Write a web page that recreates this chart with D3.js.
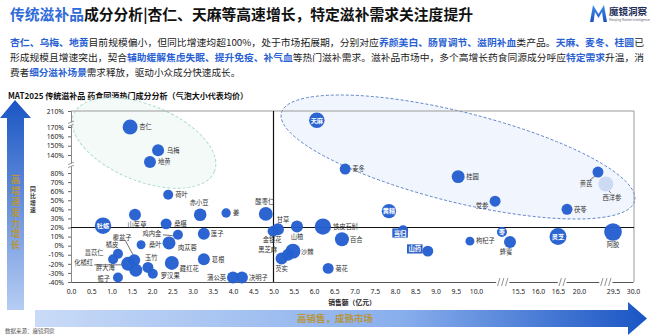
<!DOCTYPE html>
<html><head><meta charset="utf-8">
<script src="https://cdn.jsdelivr.net/npm/d3@7"></script>
<style>
html,body{margin:0;padding:0;background:#fff;}
svg{display:block;font-family:"Noto Sans CJK SC","Noto Sans",sans-serif;}
</style></head><body>
<svg id="c" width="659" height="335"></svg>
<script>
// ---------------- DATA ----------------
const names    = ["杏仁","乌梅","地黄","天麻","麦冬","桂圆","黄芪","西洋参","党参","茯苓",
                  "黄精","当归","山药","枸杞子","枣","蜂蜜","灵芝","阿胶","荷叶","赤小豆",
                  "姜","酸枣仁","山茱萸","桑椹","牡蛎","鸡内金","肉苁蓉","桑叶","覆盆子","橘皮",
                  "薏苡仁","化橘红","胖大海","玉竹","罗汉果","栀子","藏红花","莲子","葛根","蒲公英",
                  "决明子","甘草","金银花","山楂","铁皮石斛","百合","沙棘","黑芝麻","芡实","菊花"];
const sales    = [1.46,2.15,1.95,6.07,6.77,9.56,25.3,27.5,12.5,18.0,
                  7.85,8.2,8.81,9.85,13.4,14.45,16.5,29.5,2.40,3.19,
                  3.83,4.81,1.58,2.35,0.79,2.64,2.42,1.73,1.56,1.16,
                  1.04,1.41,1.60,1.90,2.02,1.16,2.49,3.28,3.28,4.00,
                  4.22,5.11,4.99,5.58,6.22,6.69,5.48,5.36,5.20,6.35];
const growth   = [170,145,117,187,93,76,83,68,49,40,
                  38,17,-6,5,15,4,10,15,56,34,
                  36,35,34,24,22,12,3,1,-16,-9,
                  -15,-20,-27,-24,-31,-35,-19,13,-15,-35,
                  -35,18,16,21,21,7,-6,-10,-14,-25];
const avgPrice = [56,36,36,60,30,42,30,56,30,30,
                  52,25,30,20,25,36,72,78,25,40,
                  22,48,36,30,68,25,42,20,36,25,
                  25,49,42,30,25,25,49,36,36,36,
                  36,36,30,36,66,49,56,36,36,30];
const yTickValues = [210,170,160,150,140,80,70,60,50,40,30,20,10,0,-10,-20,-30,-40];
const xTickValues = [0,0.5,1,1.5,2,2.5,3,3.5,4,4.5,5,5.5,6,6.5,7,7.5,8,8.5,9,9.5,10,15.5,16,16.5,20,29.5,30];
const refGrowth = 20;   // horizontal reference line (%)
const refSales  = 5;    // vertical reference line (亿元)
const titleBlue = "传统滋补品";
const titleRest = "成分分析|杏仁、天麻等高速增长，特定滋补需求关注度提升";
const paraLines = [
  [["杏仁、乌梅、地黄",1],["目前规模偏小，但同比增速均超100%，处于市场拓展期，分别对应",0],["养颜美白、肠胃调节、滋阴补血",1],["类产品。",0],["天麻、麦冬、桂圆",1],["已",0]],
  [["形成规模且增速突出，契合",0],["辅助缓解焦虑失眠、提升免疫、补气血",1],["等热门滋补需求。滋补品市场中，多个高增长药食同源成分呼应",0],["特定需求",1],["升温，消",0]],
  [["费者",0],["细分滋补场景",1],["需求释放，驱动小众成分快速成长。",0]]
];

// ---------------- STYLE / LAYOUT ----------------
const labelPos = {
  "杏仁":[9,0,"start"],"乌梅":[9,0,"start"],"地黄":[8,0,"start"],"麦冬":[7,0,"start"],"桂圆":[8,0,"start"],
  "黄芪":[-12,12,"middle"],"西洋参":[6,14,"middle"],"党参":[-13,5,"middle"],"茯苓":[7,0,"start"],
  "枸杞子":[6,0,"start"],"蜂蜜":[-4,10,"middle"],"阿胶":[0,13,"middle"],"荷叶":[7,0,"start"],
  "赤小豆":[-1,-12,"middle"],"姜":[7,0,"start"],"酸枣仁":[-1,-12,"middle"],"山茱萸":[2,10,"middle"],
  "桑椹":[8,0,"start"],"鸡内金":[-26,-1,"middle"],"肉苁蓉":[9,5,"start"],"桑叶":[8,0,"start"],
  "覆盆子":[-12,-23,"middle"],"橘皮":[-6,-9,"middle"],"薏苡仁":[-19,-7,"middle"],"化橘红":[-35,-1,"end"],
  "胖大海":[-21,-2,"end"],"玉竹":[-3,-10,"start"],"罗汉果":[8,2,"start"],"栀子":[-8,1,"end"],
  "藏红花":[8,6,"start"],"莲子":[7,0,"start"],"葛根":[8,0,"start"],"蒲公英":[-7,0,"end"],
  "决明子":[7,0,"start"],"甘草":[5,-10,"middle"],"金银花":[-1,9,"middle"],"山楂":[0,10,"middle"],
  "铁皮石斛":[10,0,"start"],"百合":[8,0,"start"],"沙棘":[8,1,"start"],"黑芝麻":[-11,-5,"end"],
  "芡实":[0,10,"middle"],"菊花":[7,0,"start"],"当归":[-3,3,"box"],"山药":[-13,-2,"box"]
};
const insideLabels = new Set(["天麻","黄精","牡蛎","灵芝","枣"]);
const leaders = {
  "鸡内金":[[-15,0],[-5,1]], "覆盆子":[[-9,-20],[-1,-5]], "化橘红":[[-34,1],[-7,1]],
  "黄芪":[[-8,8],[-3,4]], "西洋参":[[3,7],[5,9]]
};
const bubbleColor = "#2560cf";
const lightBubble = new Set(["西洋参"]);

const svg = d3.select("#c");
const defs = svg.append("defs");
const gV = defs.append("linearGradient").attr("id","gV").attr("x1",0).attr("y1",0).attr("x2",0).attr("y2",1);
gV.append("stop").attr("offset","0%").attr("stop-color","#1a55c4");
gV.append("stop").attr("offset","100%").attr("stop-color","#b6cdf3");
const gH = defs.append("linearGradient").attr("id","gH").attr("x1",0).attr("y1",0).attr("x2",1).attr("y2",0);
gH.append("stop").attr("offset","0%").attr("stop-color","#c9dbf7");
gH.append("stop").attr("offset","60%").attr("stop-color","#88aeec");
gH.append("stop").attr("offset","100%").attr("stop-color","#1a55c4");
const gM = defs.append("linearGradient").attr("id","gM").attr("x1",0).attr("y1",0).attr("x2",0).attr("y2",1);
gM.append("stop").attr("offset","0%").attr("stop-color","#3f8ef0");
gM.append("stop").attr("offset","100%").attr("stop-color","#1c4fc0");

// ---------------- HEADER ----------------
const t = svg.append("text").attr("x",10).attr("y",19.5).attr("font-size",14.5).attr("font-weight","bold")
  .attr("textLength",463).attr("lengthAdjust","spacingAndGlyphs");
t.append("tspan").attr("fill","#2e6bd8").text(titleBlue);
t.append("tspan").attr("fill","#111").text(titleRest);

// logo
svg.append("path").attr("d","M590,22 L593,5 L598.5,14 L604,5 L607,22 L603.5,22 L602,12 L598.5,18 L595,12 L593.5,22 Z").attr("fill","url(#gM)");
svg.append("text").attr("x",609).attr("y",15).attr("font-size",9.5).attr("font-weight","bold").attr("fill","#1b2b55").text("魔镜洞察");
svg.append("text").attr("x",609).attr("y",21).attr("font-size",3.2).attr("fill","#667").text("Moojing Market Intelligence");

// paragraph
paraLines.forEach((segs,i)=>{
  const tx = svg.append("text").attr("x",10).attr("y",45.5+i*15).attr("font-size",9.6).attr("fill","#222");
  if(i<2) tx.attr("textLength",634).attr("lengthAdjust","spacingAndGlyphs");
  segs.forEach(s=>{
    tx.append("tspan").attr("fill",s[1]?"#2a62d4":"#222").attr("font-weight",s[1]?"bold":"normal").text(s[0]);
  });
});

// chart subtitle
svg.append("text").attr("x",8).attr("y",99).attr("font-size",8.2).attr("font-weight","bold").attr("fill","#111")
  .attr("textLength",240).attr("lengthAdjust","spacingAndGlyphs")
  .text("MAT2025 传统滋补品 药食同源热门成分分析（气泡大小代表均价）");

// ---------------- SCALES ----------------
const x = d3.scaleLinear().domain([0,10,15.5,16.5,20,29.5,30]).range([71,476,518,558,579,613,633]);
const y = d3.scaleLinear().domain([-40,80,140,170,210]).range([282,173,155,127,111]);
const r = d3.scaleSqrt().domain([0,100]).range([0,10]);
const X0 = x(0), X1 = 634, Y0 = y(-40), Y1 = y(210);

// ellipses (highlight zones)
svg.append("g").attr("transform","translate(144,143) rotate(22)")
  .append("ellipse").attr("rx",76).attr("ry",38).attr("fill","#f3faf8").attr("stroke","#a8d9cf")
  .attr("stroke-width",0.9).attr("stroke-dasharray","3,2");
svg.append("g").attr("transform","translate(458,157) rotate(14)")
  .append("ellipse").attr("rx",182).attr("ry",45).attr("fill","#f1f5fd").attr("stroke","#5b80c6")
  .attr("stroke-width",0.9).attr("stroke-dasharray","3,2");

// frame
svg.append("line").attr("x1",X0).attr("x2",X1).attr("y1",Y1).attr("y2",Y1).attr("stroke","#9a9a9a").attr("stroke-width",1);
svg.append("line").attr("x1",X1).attr("x2",X1).attr("y1",Y1).attr("y2",Y0).attr("stroke","#9a9a9a").attr("stroke-width",1);

// axes
const yAxis = svg.append("g").attr("transform",`translate(${X0},0)`)
  .call(d3.axisLeft(y).tickValues(yTickValues).tickSize(3).tickPadding(4).tickFormat(d=>d+"%"));
yAxis.select(".domain").attr("stroke","#888");
yAxis.selectAll(".tick line").attr("stroke","#666");
yAxis.selectAll("text").attr("font-size",6.8).attr("fill","#222").attr("font-family","'Noto Sans','Noto Sans CJK SC',sans-serif");

const xAxis = svg.append("g").attr("transform",`translate(0,${Y0})`)
  .call(d3.axisBottom(x).tickValues(xTickValues).tickSize(0).tickPadding(7).tickFormat(d3.format(".1f")));
xAxis.select(".domain").attr("stroke","#555");
xAxis.selectAll("text").attr("font-size",6.8).attr("fill","#222").attr("font-family","'Noto Sans','Noto Sans CJK SC',sans-serif");

// axis breaks
[[178],[107]].forEach(b=>{
  const yy = y(b[0]);
  svg.append("rect").attr("x",X0-3).attr("y",yy-1.5).attr("width",6).attr("height",3).attr("fill","#fff");
  [-1.5,1.5].forEach(o=>svg.append("line").attr("x1",X0-3).attr("x2",X0+3).attr("y1",yy+o+1.2).attr("y2",yy+o-1.2).attr("stroke","#777").attr("stroke-width",0.7));
});
[[13.5,3],[17.2,2],[27.5,3]].forEach(b=>{
  const xx = x(b[0]), n=b[1];
  svg.append("rect").attr("x",xx-(n*2.2)).attr("y",Y0-1).attr("width",n*4.4).attr("height",2).attr("fill","#fff");
  for(let k=0;k<n;k++){
    const cx = xx + (k-(n-1)/2)*4;
    svg.append("line").attr("x1",cx-1.2).attr("x2",cx+1.2).attr("y1",Y0+4).attr("y2",Y0-4).attr("stroke","#666").attr("stroke-width",0.7);
  }
});

// reference lines
svg.append("line").attr("x1",X0).attr("x2",X1).attr("y1",y(refGrowth)).attr("y2",y(refGrowth)).attr("stroke","#111").attr("stroke-width",1.2);
svg.append("line").attr("x1",x(refSales)).attr("x2",x(refSales)).attr("y1",Y1).attr("y2",Y0).attr("stroke","#111").attr("stroke-width",1.2);

// axis titles
svg.append("text").attr("x",33).attr("y",186).attr("font-size",5.8).attr("font-weight","bold").attr("fill","#333")
  .attr("writing-mode","tb").style("writing-mode","vertical-rl").attr("letter-spacing",1).text("同比增速");
svg.append("text").attr("x",352).attr("y",305).attr("text-anchor","middle").attr("font-size",6.8)
  .attr("font-weight","bold").attr("fill","#222").text("销售额（亿元）");

// ---------------- BUBBLES ----------------
const data = names.map((n,i)=>({name:n,s:sales[i],g:growth[i],p:avgPrice[i]}));
const gL = svg.append("g");
data.forEach(d=>{
  const ld = leaders[d.name]; if(!ld) return;
  const cx=x(d.s), cy=y(d.g);
  gL.append("line").attr("x1",cx+ld[0][0]).attr("y1",cy+ld[0][1]).attr("x2",cx+ld[1][0]).attr("y2",cy+ld[1][1])
    .attr("stroke","#333").attr("stroke-width",0.7);
});
svg.append("g").selectAll("circle").data(data).join("circle")
  .attr("cx",d=>x(d.s)).attr("cy",d=>y(d.g)).attr("r",d=>r(d.p))
  .attr("fill",d=>lightBubble.has(d.name)?"#cbd9f4":bubbleColor).attr("fill-opacity",0.97);

const gT = svg.append("g").attr("font-size",6.3);
data.forEach(d=>{
  const cx=x(d.s), cy=y(d.g);
  if(insideLabels.has(d.name)){
    gT.append("text").attr("x",cx).attr("y",cy+2.3).attr("text-anchor","middle").attr("fill","#fff")
      .attr("font-weight","bold").attr("font-size",6.2).text(d.name);
    return;
  }
  const lp = labelPos[d.name]; if(!lp) return;
  if(lp[2]==="box"){
    const w = d.name.length*6.3+3;
    gT.append("rect").attr("x",cx+lp[0]-w/2).attr("y",cy+lp[1]-4.8).attr("width",w).attr("height",9.2).attr("fill","#2f63c9");
    gT.append("text").attr("x",cx+lp[0]).attr("y",cy+lp[1]+2.3).attr("text-anchor","middle").attr("fill","#fff")
      .attr("font-weight","bold").text(d.name);
    return;
  }
  gT.append("text").attr("x",cx+lp[0]).attr("y",cy+lp[1]+2.3).attr("text-anchor",lp[2]).attr("fill","#333")
    .text(d.name);
});

// ---------------- ARROWS ----------------
svg.append("path").attr("d","M15,100 L31,118 L24,118 L24,310 L7,310 L7,118 L0,118 Z").attr("fill","url(#gV)");
svg.append("text").attr("x",15.5).attr("y",175).attr("font-size",9.5).attr("font-weight","bold").attr("fill","#b8953c")
  .attr("writing-mode","tb").style("writing-mode","vertical-rl").attr("letter-spacing",1.3).text("高增速发力增长");

svg.append("path").attr("d","M35,310 L628,310 L628,302 L647,318.5 L628,335 L628,327 L35,327 Z").attr("fill","url(#gH)");
svg.append("text").attr("x",335).attr("y",322).attr("text-anchor","middle").attr("font-size",9.5)
  .attr("font-weight","bold").attr("fill","#b8953c").text("高销售，成熟市场");

svg.append("text").attr("x",5).attr("y",333).attr("font-size",5.5).attr("fill","#555").text("数据来源：魔镜洞察");
</script>
</body></html>
